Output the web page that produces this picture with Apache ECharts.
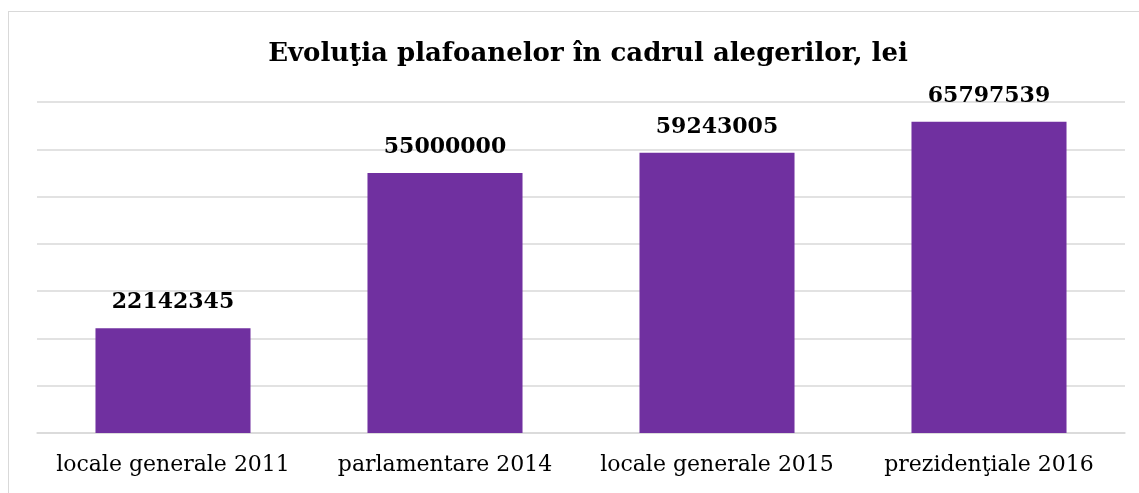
<!DOCTYPE html>
<html>
<head>
<meta charset="utf-8">
<script src="https://cdn.jsdelivr.net/npm/echarts@6/dist/echarts.min.js"></script>
<style>
  html, body { margin: 0; padding: 0; background: #fff; }
  #frame {
    position: absolute; left: 8px; top: 11px; width: 1150px; height: 500px;
    border: 1px solid #d9d9d9; box-sizing: border-box;
  }
  #chart { position: absolute; left: 0; top: 0; width: 1139px; height: 493px; }
</style>
</head>
<body>
<div id="frame"></div>
<div id="chart"></div>
<script>
const categories = ['locale generale 2011', 'parlamentare 2014', 'locale generale 2015', 'prezidenţiale 2016'];
const values = [22142345, 55000000, 59243005, 65797539];
const titleText = 'Evoluţia plafoanelor în cadrul alegerilor, lei';

const font = '"DejaVu Serif", "Liberation Serif", serif';

const chart = echarts.init(document.getElementById('chart'), null, { renderer: 'canvas' });

chart.setOption({
  animation: false,
  title: {
    text: titleText,
    left: 583,
    textAlign: 'center',
    top: 36,
    textStyle: { fontFamily: font, fontSize: 26, fontWeight: 'bold', color: '#000' }
  },
  grid: { left: 37, right: 14, top: 102, bottom: 60, containLabel: false },
  xAxis: {
    type: 'category',
    data: categories,
    axisLine: { lineStyle: { color: '#d9d9d9', width: 1.5 } },
    axisTick: { show: false },
    axisLabel: { interval: 0, fontFamily: font, fontSize: 22, color: '#000', margin: 21 }
  },
  yAxis: {
    type: 'value',
    min: 0,
    max: 70000000,
    interval: 10000000,
    axisLabel: { show: false },
    axisLine: { show: false },
    axisTick: { show: false },
    splitLine: { lineStyle: { color: '#d9d9d9', width: 1.5 } }
  },
  series: [{
    type: 'bar',
    data: values,
    barWidth: '57%',
    itemStyle: { color: '#7030A0' },
    label: {
      show: true,
      position: 'top',
      distance: 15,
      fontFamily: font,
      fontSize: 22,
      fontWeight: 'bold',
      color: '#000'
    }
  }]
});
</script>
</body>
</html>
